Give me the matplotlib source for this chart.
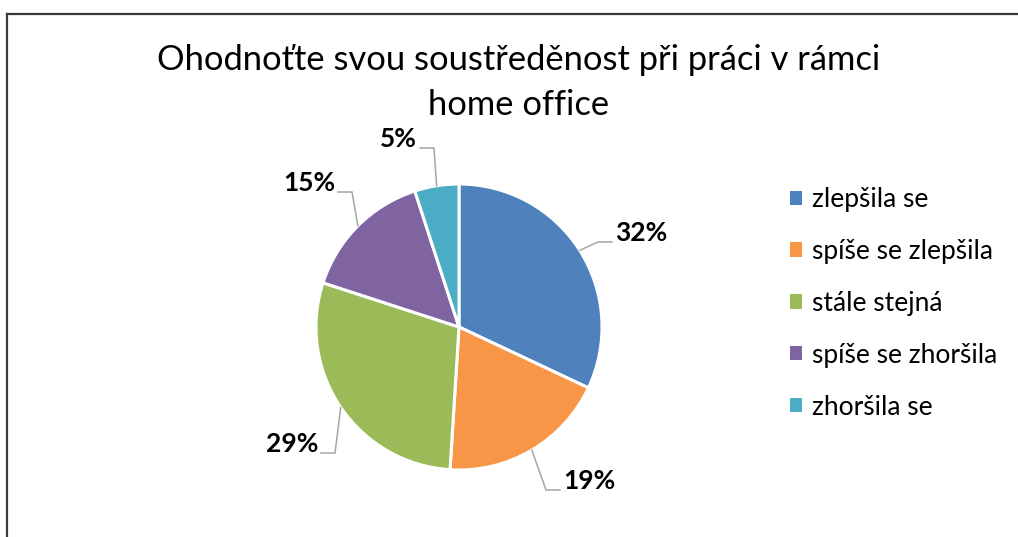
import numpy as np
import matplotlib
matplotlib.use("Agg")
import matplotlib.pyplot as plt
from matplotlib.patches import Patch
from matplotlib.lines import Line2D

# ---- data ----
title_lines = ["Ohodnoťte svou soustředěnost při práci v rámci", "home office"]
categories = ["zlepšila se", "spíše se zlepšila", "stále stejná", "spíše se zhoršila", "zhoršila se"]
values = [32, 19, 29, 15, 5]
colors = ["#4F81BD", "#F79646", "#9BBB59", "#8064A2", "#4BACC6"]

# ---- layout (pixels) ----
W, H = 1018, 537
cx, cy, R = 459, H - 327, 143
# text anchor (edge x, centre y) relative to pie centre
label_offsets = [(156, 94), (104, -154), (-141, -117), (-124, 144), (-42, 188)]
title_baselines = [70, 115]

plt.rcParams['font.family'] = ['Lato', 'DejaVu Sans']
fig = plt.figure(figsize=(W / 100, H / 100), dpi=100)
ax = fig.add_axes([0, 0, 1, 1])

wedges, _ = ax.pie(values, colors=colors, startangle=90, counterclock=False,
                   center=(cx, cy), radius=R, frame=True,
                   wedgeprops=dict(edgecolor="white", linewidth=2.2))
ax.set_xlim(0, W)
ax.set_ylim(0, H)
ax.set_aspect('equal')
ax.axis('off')

total = sum(values)
for w, v, (ox, oy) in zip(wedges, values, label_offsets):
    mid = np.deg2rad((w.theta1 + w.theta2) / 2)
    px, py = cx + R * np.cos(mid), cy + R * np.sin(mid)
    tx, ty = cx + ox, cy + oy
    side = 1 if ox > 0 else -1
    ly = ty - 9
    ax.plot([px, tx - side * 17, tx - side * 3], [py, ly, ly],
            color="#A6A6A6", lw=1.1, solid_joinstyle='miter', zorder=1)
    ax.text(tx, ty, f"{round(v / total * 100)}%", ha='left' if side > 0 else 'right',
            va='center', fontsize=19, fontweight='bold', color='black')

for line, base in zip(title_lines, title_baselines):
    fig.text(519 / W, 1 - base / H, line, ha='center', va='baseline',
             fontsize=24.8, color='black')

handles = [Patch(facecolor=c, edgecolor='none') for c in colors]
fig.legend(handles, categories, loc='upper left',
           bbox_to_anchor=(790 / W, 1 - 187 / H), frameon=False,
           fontsize=19, handlelength=0.45, handleheight=0.45,
           handletextpad=0.38, labelspacing=1.02, borderpad=0, borderaxespad=0)

# chart frame (top + left visible)
fig.add_artist(Line2D([6.5 / W, 6.5 / W], [0, 1 - 14 / H], transform=fig.transFigure,
                      color="#3a3a3a", lw=1.6))
fig.add_artist(Line2D([6.5 / W, 1], [1 - 14 / H, 1 - 14 / H], transform=fig.transFigure,
                      color="#3a3a3a", lw=1.6))

fig.savefig("out.png", dpi=100, facecolor="white")
